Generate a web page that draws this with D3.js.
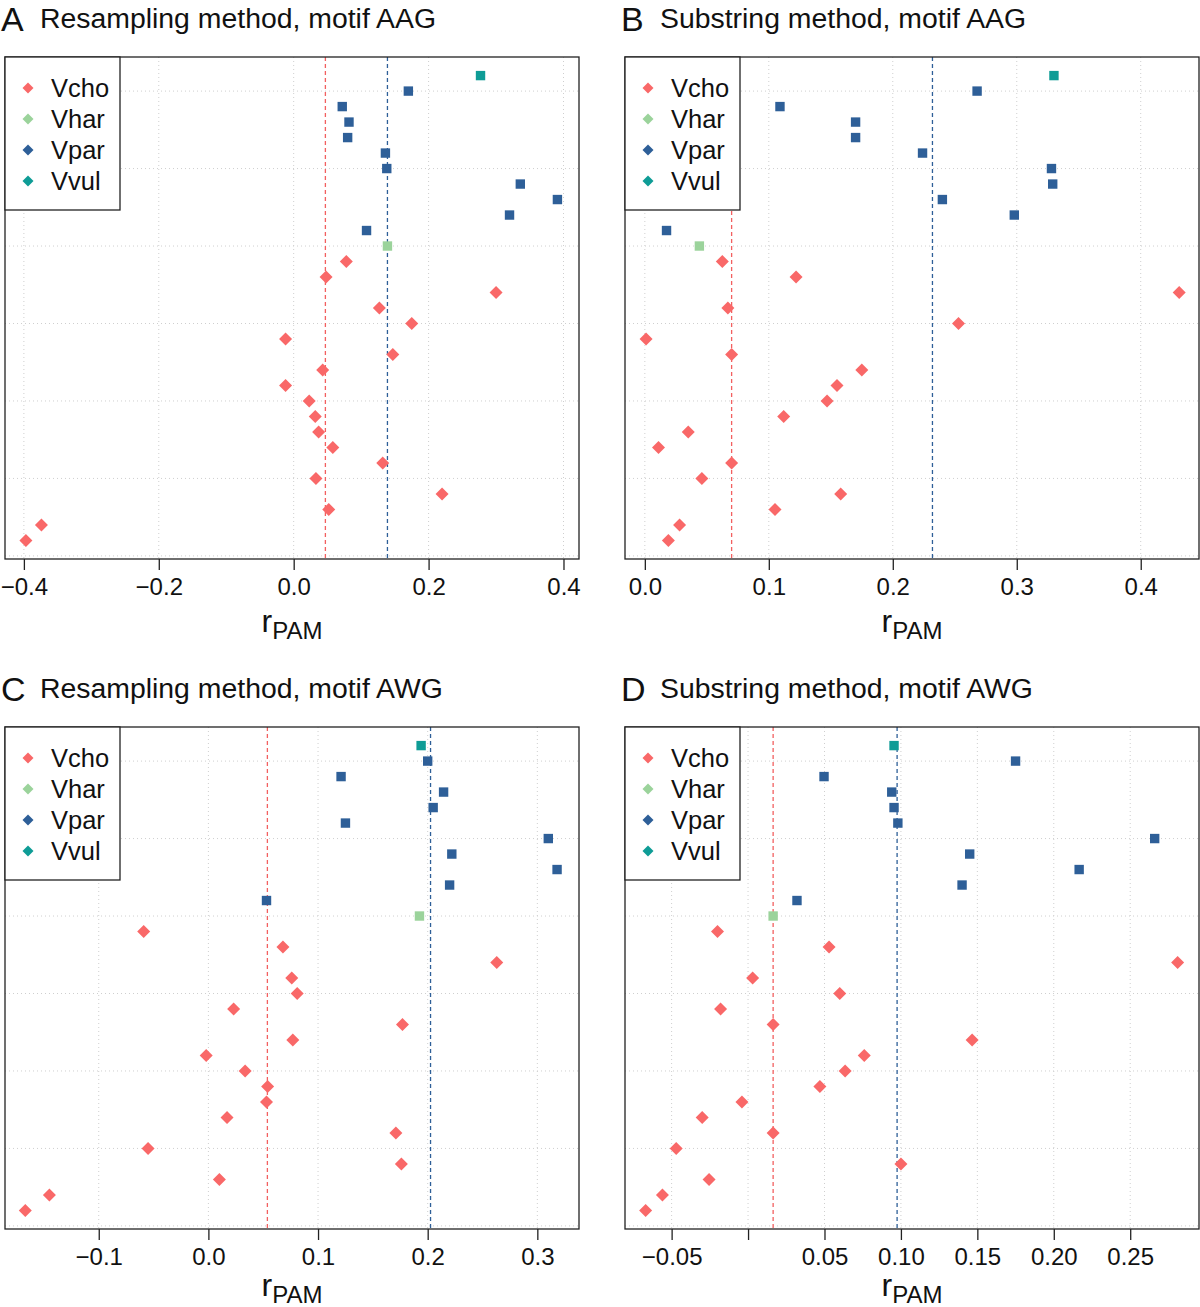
<!DOCTYPE html>
<html><head><meta charset="utf-8">
<script src="https://cdn.jsdelivr.net/npm/d3@7"></script>
<style>
body{margin:0;background:#fff;}
svg{display:block;font-family:"Liberation Sans",Arial,sans-serif;}
</style></head>
<body>
<svg id="chart" width="1200" height="1307"></svg>
<script>
// species of each row, rows 1 (bottom) .. 31 (top)
const species = [].concat(Array(19).fill("Vcho"), ["Vhar"], Array(10).fill("Vpar"), ["Vvul"]);
const speciesNames = ["Vcho","Vhar","Vpar","Vvul"];
const speciesColors = ["#F96868","#9BD39B","#2E5F98","#0E9C96"];

// r_PAM values per row, bottom to top
const valuesA = [-0.397,-0.374,0.052,0.220,0.033,0.132,0.058,0.037,0.032,0.023,-0.012,0.043,0.147,-0.012,0.175,0.127,0.300,0.048,0.078,0.139,0.108,0.320,0.391,0.336,0.138,0.136,0.080,0.082,0.072,0.170,0.277];
const valuesB = [0.019,0.028,0.105,0.158,0.046,0.070,0.011,0.035,0.112,0.147,0.155,0.175,0.070,0.001,0.253,0.067,0.431,0.122,0.0625,0.044,0.0175,0.298,0.240,0.329,0.328,0.224,0.170,0.170,0.109,0.268,0.330];
const valuesC = [-0.167,-0.145,0.010,0.176,-0.055,0.171,0.017,0.053,0.054,0.0335,-0.002,0.077,0.177,0.023,0.081,0.076,0.263,0.068,-0.059,0.1925,0.053,0.220,0.318,0.222,0.310,0.125,0.205,0.2145,0.121,0.200,0.194];
const valuesD = [-0.067,-0.056,-0.0255,0.100,-0.047,0.0164,-0.030,-0.004,0.047,0.0635,0.076,0.1466,0.0164,-0.018,0.060,0.003,0.281,0.053,-0.020,0.0164,0.032,0.140,0.2166,0.145,0.266,0.098,0.0955,0.094,0.0497,0.175,0.0955];

// reference (mean) lines: [Vcho, Vpar]
const refA = [0.047, 0.139];
const refB = [0.070, 0.232];
const refC = [0.0538, 0.2026];
const refD = [0.0164, 0.0975];

const ticksA = [-0.4,-0.2,0,0.2,0.4];
const ticksB = [0,0.1,0.2,0.3,0.4];
const ticksC = [-0.1,0,0.1,0.2,0.3];
const ticksD = [-0.05,0,0.05,0.1,0.15,0.2,0.25];
const tickLabelsA = ["−0.4","−0.2","0.0","0.2","0.4"];
const tickLabelsB = ["0.0","0.1","0.2","0.3","0.4"];
const tickLabelsC = ["−0.1","0.0","0.1","0.2","0.3"];
const tickLabelsD = ["−0.05","","0.05","0.10","0.15","0.20","0.25"];

const letters = ["A","B","C","D"];
const titles = ["Resampling method, motif AAG","Substring method, motif AAG","Resampling method, motif AWG","Substring method, motif AWG"];

const panels = [
  {letter:letters[0], title:titles[0], values:valuesA, ref:refA, ticks:ticksA, labels:tickLabelsA, domain:[-0.428,0.423], left:5, top:57, labY:73},
  {letter:letters[1], title:titles[1], values:valuesB, ref:refB, ticks:ticksB, labels:tickLabelsB, domain:[-0.016,0.447], left:625, top:57, labY:73},
  {letter:letters[2], title:titles[2], values:valuesC, ref:refC, ticks:ticksC, labels:tickLabelsC, domain:[-0.1855,0.338], left:5, top:727, labY:67},
  {letter:letters[3], title:titles[3], values:valuesD, ref:refD, ticks:ticksD, labels:tickLabelsD, domain:[-0.0805,0.295], left:625, top:727, labY:67}
];

const W = 574, H = 502;
const color = d3.scaleOrdinal().domain(speciesNames).range(speciesColors);
const svg = d3.select("#chart");

panels.forEach(p => {
  const g = svg.append("g").attr("transform", `translate(${p.left},${p.top})`);
  const x = d3.scaleLinear().domain(p.domain).range([0, W]);
  const y = d3.scaleLinear().domain([-0.2, 32.2]).range([H, 0]);

  // grid
  g.append("g").selectAll("line").data(p.ticks).join("line")
    .attr("x1", d => x(d)).attr("x2", d => x(d)).attr("y1", 0).attr("y2", H)
    .attr("stroke", "#cfcfcf").attr("stroke-width", 1).attr("stroke-dasharray", "1,3");
  g.append("g").selectAll("line").data(d3.range(0, 31, 5)).join("line")
    .attr("x1", 0).attr("x2", W).attr("y1", d => y(d)).attr("y2", d => y(d))
    .attr("stroke", "#cfcfcf").attr("stroke-width", 1).attr("stroke-dasharray", "1,3");

  // reference lines
  g.append("line").attr("x1", x(p.ref[0])).attr("x2", x(p.ref[0])).attr("y1", 0).attr("y2", H)
    .attr("stroke", "#F26060").attr("stroke-width", 1.3).attr("stroke-dasharray", "4,3");
  g.append("line").attr("x1", x(p.ref[1])).attr("x2", x(p.ref[1])).attr("y1", 0).attr("y2", H)
    .attr("stroke", "#2E5F98").attr("stroke-width", 1.3).attr("stroke-dasharray", "4,3");

  // points
  const pts = p.values.map((v, i) => ({v, row: i + 1, sp: species[i]}));
  g.append("g").selectAll("path").data(pts).join("path")
    .attr("transform", d => `translate(${x(d.v)},${y(d.row)})`)
    .attr("d", d => d.sp === "Vcho" ? "M0,-6.5L6.5,0L0,6.5L-6.5,0Z" : "M-4.7,-4.7H4.7V4.7H-4.7Z")
    .attr("fill", d => color(d.sp));

  // box
  g.append("rect").attr("x", 0).attr("y", 0).attr("width", W).attr("height", H)
    .attr("fill", "none").attr("stroke", "#222").attr("stroke-width", 1.3);

  // x axis
  const ax = d3.axisBottom(x).tickValues(p.ticks).tickFormat((d, i) => p.labels[i]).tickSize(11).tickPadding(8);
  const axg = g.append("g").attr("transform", `translate(0,${H})`).call(ax);
  axg.select(".domain").remove();
  axg.selectAll(".tick line").attr("stroke", "#222").attr("stroke-width", 1.3);
  axg.selectAll(".tick text").attr("font-size", 24).attr("fill", "#111")
    .attr("font-family", "'Liberation Sans',Arial,sans-serif");

  // x axis label
  const lab = g.append("text").attr("x", W / 2).attr("y", H + p.labY).attr("text-anchor", "middle").attr("fill", "#111");
  lab.append("tspan").attr("font-size", 32).text("r");
  lab.append("tspan").attr("font-size", 24).attr("dy", 7).text("PAM");

  // legend
  const lg = g.append("g");
  lg.append("rect").attr("x", 0).attr("y", 0).attr("width", 115).attr("height", 153)
    .attr("fill", "#fff").attr("stroke", "#222").attr("stroke-width", 1.3);
  speciesNames.forEach((s, i) => {
    const cy = 31 + i * 31;
    lg.append("path").attr("transform", `translate(23,${cy})`).attr("d", "M0,-5.5L5.5,0L0,5.5L-5.5,0Z").attr("fill", color(s));
    lg.append("text").attr("x", 46).attr("y", cy + 9).attr("font-size", 25.5).attr("fill", "#111").text(s);
  });

  // title
  svg.append("text").attr("x", p.left - 4).attr("y", p.top - 26).attr("font-size", 34).attr("fill", "#111").text(p.letter);
  svg.append("text").attr("x", p.left + 35).attr("y", p.top - 29).attr("font-size", 28.4).attr("fill", "#111").text(p.title);
});
</script>
</body></html>
